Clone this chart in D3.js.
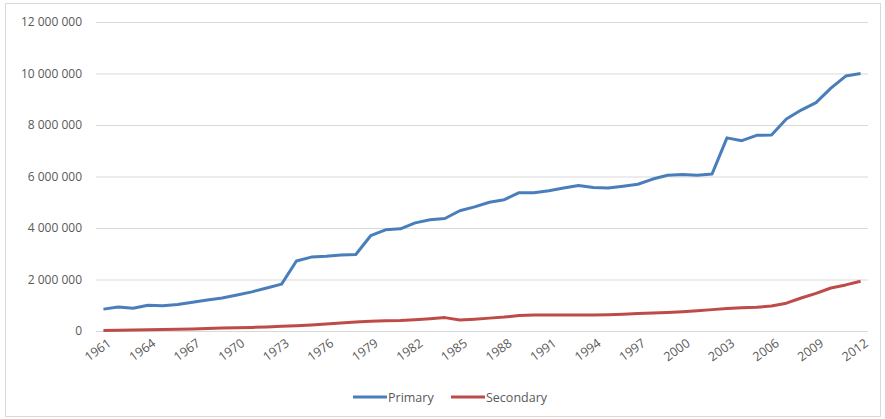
<!DOCTYPE html>
<html>
<head>
<meta charset="utf-8">
<script src="https://cdn.jsdelivr.net/npm/d3@7"></script>
<style>
  body { margin: 0; background: #fff; }
  text { font-family: "Open Sans", sans-serif; fill: #595959; }
</style>
</head>
<body>
<script>
// years 1961..2012
var years = d3.range(1961, 2013);

var primary = [
  0.85, 0.93, 0.88, 1.00, 0.98, 1.03, 1.12, 1.20, 1.28, 1.40,
  1.52, 1.67, 1.82, 2.72, 2.87, 2.90, 2.95, 2.97, 3.70, 3.93,
  3.97, 4.20, 4.32, 4.37, 4.67, 4.82, 5.00, 5.10, 5.37, 5.37,
  5.45, 5.55, 5.65, 5.57, 5.55, 5.62, 5.70, 5.90, 6.05, 6.08,
  6.05, 6.10, 7.50, 7.39, 7.60, 7.61, 8.23, 8.58, 8.87, 9.43,
  9.90, 10.00
].map(d => d * 1e6);

var secondary = [
  0.02, 0.03, 0.04, 0.05, 0.06, 0.07, 0.08, 0.10, 0.12, 0.13,
  0.14, 0.16, 0.18, 0.20, 0.23, 0.27, 0.31, 0.35, 0.38, 0.40,
  0.41, 0.44, 0.48, 0.52, 0.43, 0.46, 0.50, 0.54, 0.60, 0.62,
  0.62, 0.62, 0.62, 0.62, 0.63, 0.65, 0.68, 0.70, 0.72, 0.75,
  0.79, 0.83, 0.87, 0.90, 0.92, 0.97, 1.08, 1.28, 1.46, 1.67,
  1.79, 1.93
].map(d => d * 1e6);

var yTicks = [0, 2e6, 4e6, 6e6, 8e6, 10e6, 12e6];
var xTickYears = [1961, 1964, 1967, 1970, 1973, 1976, 1979, 1982, 1985, 1988,
                  1991, 1994, 1997, 2000, 2003, 2006, 2009, 2012];

var series = [
  {name: "Primary", values: primary, color: "#4a7ebb"},
  {name: "Secondary", values: secondary, color: "#be4b48"}
];

var width = 885, height = 419;
var margin = {top: 22, right: 17, bottom: 88, left: 96};

var svg = d3.select("body")
    .append("svg")
    .attr("width", width)
    .attr("height", height);

// outer frame
svg.append("rect")
    .attr("x", 5.5).attr("y", 3.5)
    .attr("width", width - 10).attr("height", height - 6)
    .attr("fill", "none")
    .attr("stroke", "#d9d9d9");

var xscale = d3.scalePoint()
    .domain(years)
    .range([margin.left, width - margin.right])
    .padding(0.5);

var yscale = d3.scaleLinear()
    .domain([0, 12e6])
    .range([height - margin.bottom, margin.top]);

var loc = d3.formatLocale({decimal: ",", thousands: " ", grouping: [3], currency: ["", ""]});
var fmt = loc.format(",d");

// gridlines + y labels
var yAxis = svg.append("g")
    .attr("transform", `translate(${margin.left},0)`)
    .call(d3.axisLeft(yscale).tickValues(yTicks).tickFormat(fmt)
        .tickSize(-(width - margin.left - margin.right)).tickPadding(14));
yAxis.select(".domain").remove();
yAxis.selectAll(".tick line").attr("stroke", "#d9d9d9");
yAxis.selectAll(".tick text")
    .style("font-size", "12px")
    .attr("font-family", null);

// x labels
var xAxis = svg.append("g")
    .attr("transform", `translate(0,${height - margin.bottom})`)
    .call(d3.axisBottom(xscale).tickValues(xTickYears).tickSize(0));
xAxis.select(".domain").remove();
xAxis.selectAll(".tick text")
    .style("font-size", "12.5px")
    .attr("text-anchor", "end")
    .attr("dy", null)
    .attr("y", 0)
    .attr("transform", "translate(8,14) rotate(-36)");

var line = d3.line()
    .x((d, i) => xscale(years[i]))
    .y(d => yscale(d));

svg.selectAll(".series")
    .data(series)
    .enter().append("path")
    .attr("class", "series")
    .attr("fill", "none")
    .attr("stroke", d => d.color)
    .attr("stroke-width", 3)
    .attr("stroke-linejoin", "round")
    .attr("d", d => line(d.values));

// legend
var legend = svg.append("g").attr("transform", "translate(353,397)");
var lx = [0, 98];
series.forEach(function(s, i) {
  var g = legend.append("g").attr("transform", `translate(${lx[i]},0)`);
  g.append("line")
      .attr("x1", 0).attr("x2", 34)
      .attr("stroke", s.color).attr("stroke-width", 3);
  g.append("text")
      .attr("x", 35).attr("y", 4.5)
      .style("font-size", "12.5px")
      .text(s.name);
});
</script>
</body>
</html>
